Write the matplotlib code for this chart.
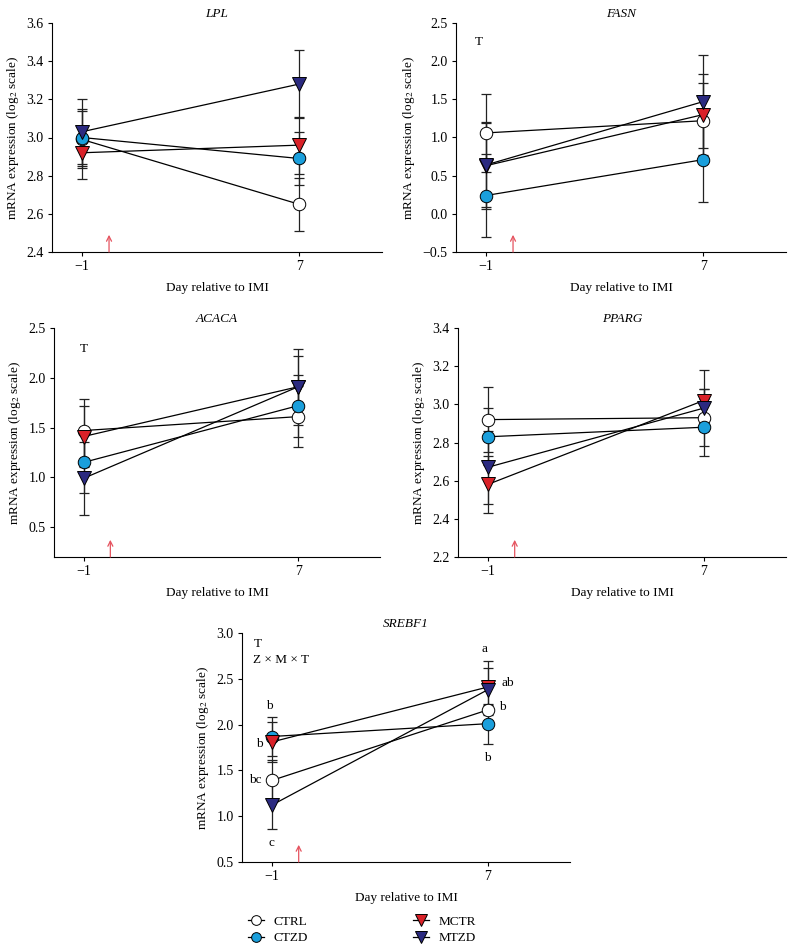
import matplotlib
matplotlib.use("Agg")
import matplotlib.pyplot as plt
from matplotlib.lines import Line2D

plt.rcParams['font.family'] = ['Liberation Serif', 'DejaVu Serif']
plt.rcParams['mathtext.fontset'] = 'stix'
plt.rcParams['axes.unicode_minus'] = True

days = [-1, 7]
groups = ["CTRL", "CTZD", "MCTR", "MTZD"]
genes = ["LPL", "FASN", "ACACA", "PPARG", "SREBF1"]

# means per gene, per group: [day -1, day 7]
lpl_mean = {"CTRL": [2.99, 2.65], "CTZD": [3.00, 2.89], "MCTR": [2.92, 2.96], "MTZD": [3.03, 3.28]}
lpl_err = {"CTRL": [0.15, 0.14], "CTZD": [0.15, 0.14], "MCTR": [0.14, 0.15], "MTZD": [0.17, 0.18]}

fasn_mean = {"CTRL": [1.06, 1.22], "CTZD": [0.24, 0.71], "MCTR": [0.63, 1.30], "MTZD": [0.64, 1.47]}
fasn_err = {"CTRL": [0.51, 0.49], "CTZD": [0.54, 0.56], "MCTR": [0.57, 0.53], "MTZD": [0.55, 0.61]}

acaca_mean = {"CTRL": [1.47, 1.61], "CTZD": [1.15, 1.72], "MCTR": [1.41, 1.91], "MTZD": [0.99, 1.91]}
acaca_err = {"CTRL": [0.32, 0.31], "CTZD": [0.31, 0.31], "MCTR": [0.31, 0.31], "MTZD": [0.37, 0.38]}

pparg_mean = {"CTRL": [2.92, 2.93], "CTZD": [2.83, 2.88], "MCTR": [2.58, 3.02], "MTZD": [2.67, 2.98]}
pparg_err = {"CTRL": [0.17, 0.15], "CTZD": [0.15, 0.15], "MCTR": [0.15, 0.16], "MTZD": [0.19, 0.10]}

srebf1_mean = {"CTRL": [1.39, 2.16], "CTZD": [1.87, 2.01], "MCTR": [1.81, 2.41], "MTZD": [1.12, 2.38]}
srebf1_err = {"CTRL": [0.22, 0.05], "CTZD": [0.21, 0.22], "MCTR": [0.22, 0.28], "MTZD": [0.26, 0.24]}

ylims = {"LPL": (2.4, 3.6), "FASN": (-0.5, 2.5), "ACACA": (0.2, 2.5), "PPARG": (2.2, 3.4), "SREBF1": (0.5, 3.0)}
yticks = {
    "LPL": [2.4, 2.6, 2.8, 3.0, 3.2, 3.4, 3.6],
    "FASN": [-0.5, 0.0, 0.5, 1.0, 1.5, 2.0, 2.5],
    "ACACA": [0.5, 1.0, 1.5, 2.0, 2.5],
    "PPARG": [2.2, 2.4, 2.6, 2.8, 3.0, 3.2, 3.4],
    "SREBF1": [0.5, 1.0, 1.5, 2.0, 2.5, 3.0],
}
stat_notes = {"LPL": [], "FASN": ["T"], "ACACA": ["T"], "PPARG": [], "SREBF1": ["T", "Z × M × T"]}

srebf1_letters = ["b", "b", "bc", "c", "a", "ab", "b", "b"]
srebf1_letter_x = [-1.1, -1.45, -1.6, -1.0, 6.9, 7.75, 7.55, 7.0]
srebf1_letter_y = [2.20, 1.79, 1.39, 0.71, 2.83, 2.45, 2.19, 1.64]

data = {
    "LPL": (lpl_mean, lpl_err),
    "FASN": (fasn_mean, fasn_err),
    "ACACA": (acaca_mean, acaca_err),
    "PPARG": (pparg_mean, pparg_err),
    "SREBF1": (srebf1_mean, srebf1_err),
}

styles = {
    "CTRL": dict(marker="o", mfc="white"),
    "CTZD": dict(marker="o", mfc="#1a9fdc"),
    "MCTR": dict(marker="v", mfc="#d92128"),
    "MTZD": dict(marker="v", mfc="#2b2a80"),
}

W, H = 795, 952
fig = plt.figure(figsize=(W / 100, H / 100), dpi=100)

def rect(l, r, t, b):
    return [l / W, 1 - b / H, (r - l) / W, (b - t) / H]

positions = {
    "LPL": rect(52, 382, 23, 252),
    "FASN": rect(456, 786, 23, 252),
    "ACACA": rect(54, 380, 328, 557),
    "PPARG": rect(458, 786, 328, 557),
    "SREBF1": rect(242, 570, 633, 862),
}
note_pos = {"FASN": (0.058, [0.915]), "ACACA": (0.08, [0.91]), "SREBF1": (0.035, [0.95, 0.88])}

for gene in genes:
    ax = fig.add_axes(positions[gene])
    means, errs = data[gene]
    for g in groups:
        st = styles[g]
        ax.errorbar(days, means[g], yerr=errs[g], fmt="none", ecolor="#222222",
                    elinewidth=0.9, capsize=3.8, capthick=0.9, zorder=2)
        ax.plot(days, means[g], color="black", lw=0.9, zorder=3)
        ax.plot(days, means[g], linestyle="none", marker=st["marker"], mfc=st["mfc"],
                mec="black", mew=0.7, ms=9 if st["marker"] == "o" else 10, zorder=4)
    ax.set_xlim(-2.1, 10.05)
    ax.set_ylim(*ylims[gene])
    ax.set_yticks(yticks[gene])
    ax.set_yticklabels([f"{v:.1f}".replace("-", "\u2212") for v in yticks[gene]])
    ax.set_xticks(days)
    ax.set_xticklabels(["\u22121", "7"])
    for s in ["top", "right"]:
        ax.spines[s].set_visible(False)
    for s in ["left", "bottom"]:
        ax.spines[s].set_linewidth(0.8)
    ax.tick_params(axis="both", labelsize=10, length=3, width=0.8, pad=3)
    ax.set_title(gene, fontsize=9.5, style="italic", pad=4)
    ax.set_xlabel("Day relative to IMI", fontsize=9.5, labelpad=6)
    ax.set_ylabel("mRNA expression (log$_2$ scale)", fontsize=9.5, labelpad=4)
    # IMI arrow at day 0
    ax.annotate("", xy=(0, 0.075), xytext=(0, 0.0),
                xycoords=ax.get_xaxis_transform(), textcoords=ax.get_xaxis_transform(),
                arrowprops=dict(arrowstyle="->", color="#e5535f", lw=0.9,
                                mutation_scale=9, shrinkA=0, shrinkB=0))
    if gene in note_pos:
        nx, nys = note_pos[gene]
        for note, ny in zip(stat_notes[gene], nys):
            ax.text(nx, ny, note, transform=ax.transAxes, fontsize=9.5, ha="left", va="center")
    if gene == "SREBF1":
        for lt, lx, ly in zip(srebf1_letters, srebf1_letter_x, srebf1_letter_y):
            ax.text(lx, ly, lt, fontsize=9.5, ha="center", va="center")

handles = []
for g in groups:
    st = styles[g]
    handles.append(Line2D([0], [0], color="black", lw=0.9, marker=st["marker"], mfc=st["mfc"],
                          mec="black", mew=0.7, ms=7 if st["marker"] == "o" else 8))
fig.legend(handles, groups, ncol=2, loc="center", bbox_to_anchor=(362 / W, 1 - 930 / H),
           frameon=False, fontsize=9.5, handlelength=1.2, columnspacing=8,
           handletextpad=0.7, labelspacing=0.3)

fig.savefig("out.png", dpi=100)
